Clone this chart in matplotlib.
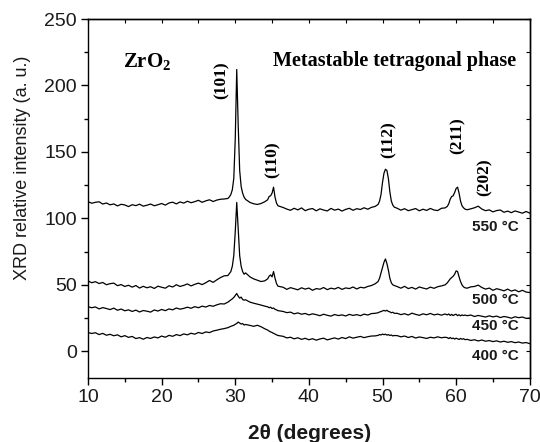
import numpy as np
import matplotlib
matplotlib.use('Agg')
import matplotlib.pyplot as plt
import matplotlib.ticker as tkr

plt.rcParams['mathtext.fontset'] = 'custom'
plt.rcParams['mathtext.rm'] = 'Liberation Serif'
plt.rcParams['mathtext.bf'] = 'Liberation Serif:bold'

# 2theta sampling grid (coarse baseline, finer around the reflections)
x_segs = [(10.0, 28.5, 0.5), (29.0, 31.4, 0.2), (32.0, 34.0, 0.5), (34.4, 35.8, 0.2),
          (36.5, 49.0, 0.5), (49.4, 51.6, 0.2), (52.0, 58.5, 0.5), (58.8, 61.2, 0.2),
          (61.5, 70.0, 0.5)]
two_theta = np.concatenate([np.round(np.arange(a, b + s / 2, s), 2) for a, b, s in x_segs])

### ---- intensities ----
i550 = [112.6, 111.4, 112.1, 112.5, 110.8, 111.6, 110.2, 110.9, 109.4, 110.6, 110.1, 108.9, 110.3,
        109.6, 110.7, 109.2, 109.9, 110.8, 109.5, 110.3, 111.2, 110.0, 111.6, 112.2, 110.9, 112.4,
        111.5, 112.9, 111.8, 112.6, 113.6, 112.1, 113.2, 114.0, 112.7, 113.8, 114.4, 114.6,
        115.0, 116.2, 118.0, 121.5, 130.0, 160.0, 212.0, 170.0, 136.0, 124.0, 119.0, 116.0, 114.3,
        112.0, 111.0, 110.5, 111.2, 112.5,
        114.0, 116.5, 117.0, 119.0, 123.5, 116.0, 111.5, 109.5,
        108.2, 107.0, 106.1, 107.6, 106.4, 107.9, 105.8, 106.9, 107.4, 105.7, 107.2, 106.3, 105.6,
        107.5, 106.2, 107.0, 105.5, 106.8, 107.6, 106.1, 107.3, 106.7, 108.0, 106.9, 108.3, 109.0,
        110.5, 113.0, 118.0, 127.0, 134.0, 137.0, 136.0, 130.0, 120.0, 113.0, 110.0, 108.5,
        107.6, 106.2, 107.3, 105.8, 106.6, 107.4, 105.7, 106.9, 106.0, 107.5, 106.3, 105.9, 107.6, 107.9,
        109.0, 111.0, 114.5, 116.5, 117.0, 119.5, 122.5, 123.5, 119.0, 113.0, 109.5, 108.0, 107.0,
        106.5, 107.2, 108.0, 109.2, 107.0, 105.8, 106.4, 104.9, 105.9, 106.3, 104.6, 105.5, 104.3,
        105.6, 104.8, 103.9, 105.2, 104.0]

i500 = [53.0, 51.6, 52.4, 51.0, 51.8, 50.1, 50.9, 51.3, 49.4, 50.2, 48.8, 49.7, 48.3, 49.5, 47.6,
        48.9, 47.8, 48.6, 47.3, 49.0, 48.2, 47.5, 49.3, 48.4, 50.1, 48.8, 49.6, 50.7, 49.2, 50.4,
        51.3, 50.2, 51.6, 53.3, 51.9, 53.8, 55.5, 56.8,
        57.0, 58.5, 60.0, 64.0, 72.0, 90.0, 112.0, 92.0, 72.0, 64.0, 60.0, 58.0, 59.0,
        56.0, 54.5, 53.5, 52.5, 53.0,
        54.5, 56.5, 57.5, 56.0, 60.0, 55.0, 51.0, 49.0,
        48.2, 46.6, 47.9, 47.1, 46.3, 47.8, 46.8, 47.6, 45.9, 47.2, 46.7, 48.0, 46.4, 47.5, 46.9,
        48.1, 46.6, 47.7, 47.2, 48.4, 46.9, 48.2, 47.7, 48.8, 49.5, 50.8,
        52.5, 55.0, 59.0, 63.0, 67.0, 69.5, 66.0, 61.0, 55.0, 51.5, 50.0, 49.5,
        48.7, 47.5, 48.9, 47.2, 48.1, 46.8, 48.4, 47.6, 46.9, 48.3, 47.4, 48.6, 49.2, 50.0,
        51.5, 53.0, 54.5, 55.5, 56.5, 58.0, 60.5, 60.0, 56.0, 52.5, 50.0, 48.5, 47.8,
        47.5, 48.5, 48.8, 49.8, 48.0, 46.8, 47.6, 45.9, 47.1, 46.4, 45.5, 46.8, 45.3, 46.2, 44.8,
        45.9, 44.6, 44.2]

i450 = [33.6, 32.8, 33.4, 31.9, 32.9, 32.2, 31.4, 32.5, 30.9, 31.8, 30.5, 31.2, 30.0, 31.0, 29.6,
        30.7, 30.2, 29.5, 31.1, 30.3, 31.5, 30.6, 31.9, 31.2, 32.6, 31.7, 32.3, 33.2, 32.4, 33.6,
        32.8, 34.0, 33.3, 34.5, 33.9, 35.0, 35.8, 35.6,
        37.0, 37.8, 38.5, 39.5, 40.5, 42.0, 43.5, 41.5, 40.0, 40.8, 39.0, 38.5, 38.8,
        37.0, 36.2, 35.5, 34.8, 34.0,
        33.5, 32.8, 33.2, 32.2, 32.6, 31.6, 31.2, 30.6,
        30.0, 29.1, 29.5, 28.2, 28.9, 27.9, 28.5, 27.4, 28.2, 27.6, 26.8, 27.9, 27.1, 26.5, 27.7,
        26.9, 27.4, 26.6, 27.8, 27.0, 27.6, 26.8, 28.0, 27.3, 28.4, 28.6,
        29.0, 29.6, 29.9, 30.4, 30.8, 30.3, 30.9, 30.0, 29.7, 29.0, 29.4, 28.6,
        28.6, 27.6, 28.3, 27.3, 28.7, 27.8, 27.1, 28.2, 27.5, 28.5, 27.4, 28.0, 27.2, 28.1,
        27.4, 28.1, 27.0, 27.8, 26.9, 27.6, 27.9, 26.8, 27.5, 26.7, 27.4, 26.9, 27.3,
        26.8, 27.3, 26.2, 27.0, 26.4, 25.8, 26.7, 25.9, 26.5, 25.4, 26.2, 25.7, 24.9, 26.0, 25.3,
        25.8, 24.8, 25.0]

i400 = [14.2, 13.4, 14.0, 12.6, 13.5, 12.1, 12.8, 11.7, 12.4, 10.9, 11.8, 10.5, 11.2, 9.6, 10.3,
        9.1, 10.4, 9.7, 10.8, 10.1, 11.5, 10.6, 12.0, 11.3, 12.6, 11.8, 13.1, 12.4, 13.6, 12.9,
        14.2, 13.4, 14.6, 14.1, 15.3, 15.9, 16.6, 17.1,
        17.8, 18.3, 18.8, 19.2, 19.6, 20.3, 21.0, 22.0, 21.2, 20.5, 20.9, 19.8, 20.2,
        19.5, 18.8, 19.6, 18.5, 17.0,
        16.0, 15.2, 14.6, 14.2, 13.5, 13.0, 12.4, 11.9,
        11.3, 10.1, 10.6, 9.4, 10.2, 9.0, 9.8, 8.7, 9.5, 8.4, 9.3, 9.9, 8.6, 9.4, 10.1, 9.2, 10.4,
        9.6, 10.9, 9.9, 10.6, 11.2, 10.3, 11.0, 11.5, 11.6,
        12.0, 12.6, 12.3, 13.0, 12.5, 12.9, 12.2, 12.6, 11.9, 12.3, 11.6, 11.9,
        11.8, 10.9, 11.5, 10.4, 11.2, 10.0, 10.8, 10.3, 9.7, 10.6, 10.1, 10.9, 10.2, 10.6,
        10.3, 9.6, 10.4, 9.5, 10.0, 9.2, 9.9, 9.4, 8.9, 9.7, 9.1, 9.5, 8.8,
        9.0, 8.2, 8.7, 7.8, 8.5, 7.6, 8.1, 7.3, 7.9, 7.0, 7.6, 6.8, 7.3, 6.5, 7.0, 6.2, 6.6, 5.8]

temps = ['550 °C', '500 °C', '450 °C', '400 °C']
temp_lab_y = [93.6, 38.7, 18.7, -3.7]

peaks = ['(101)', '(110)', '(112)', '(211)', '(202)']
peak_pos = [28.2, 35.1, 50.8, 60.2, 63.9]
peak_lab_y = [204, 144, 159, 162, 131]

for arr in (i550, i500, i450, i400):
	assert len(arr) == len(two_theta), (len(arr), len(two_theta))

### ---------------- plot -----------
fig = plt.figure(figsize=(5.4, 4.42), dpi=100)
ax = fig.add_axes([0.163, 0.145, 0.818, 0.812])
serif = 'Liberation Serif'
sans = 'Liberation Sans'
ink = '#1a1a1a'

for arr in (i550, i500, i450, i400):
	ax.plot(two_theta, arr, '-', color='black', lw=0.9)

ax.set_xlim(10, 70)
ax.set_ylim(-20, 250)
ax.set_xticks(np.arange(10, 71, 10))
ax.set_yticks(np.arange(0, 251, 50))
ax.xaxis.set_minor_locator(tkr.AutoMinorLocator(2))
ax.yaxis.set_minor_locator(tkr.AutoMinorLocator(2))
ax.tick_params(which='major', axis='both', direction='out', length=5, width=1, labelsize=14, pad=3)
ax.tick_params(which='minor', axis='both', direction='out', length=3, width=1)
for lab in ax.get_xticklabels() + ax.get_yticklabels():
	lab.set_fontfamily(sans)
	lab.set_color(ink)

# inward ticks on top and right edges
axt = ax.secondary_xaxis('top')
axt.set_xticks(np.arange(10, 71, 5))
axt.tick_params(direction='in', length=3, labeltop=False)
axr = ax.secondary_yaxis('right')
axr.set_yticks(np.arange(0, 251, 25))
axr.tick_params(direction='in', length=3, labelright=False)
for a in (ax, axt, axr):
	for sp in a.spines.values():
		sp.set_linewidth(1)

fig.text(0.574, 0.020, '2θ (degrees)', fontsize=15, fontweight='bold', family=sans, color=ink,
	ha='center', va='center')
fig.text(0.041, 0.62, 'XRD relative intensity (a. u.)', fontsize=13, family=sans, color=ink,
	rotation=90, ha='center', va='center')

ax.text(14.75, 218, r'$\mathbf{ZrO_2}$', fontsize=15, ha='left', va='center')
ax.text(68.2, 218.5, 'Metastable tetragonal phase', fontsize=14.5, fontweight='bold', family=serif,
	ha='right', va='center')

for name, px, py in zip(peaks, peak_pos, peak_lab_y):
	ax.text(px, py, name, rotation=90, fontsize=12.5, fontweight='bold', family=serif, ha='center', va='center')

for name, ty in zip(temps, temp_lab_y):
	ax.text(68.5, ty, name, fontsize=11, fontweight='bold', family=sans, ha='right', va='center', color=ink)

plt.savefig('out.png', dpi=100)
plt.close()
